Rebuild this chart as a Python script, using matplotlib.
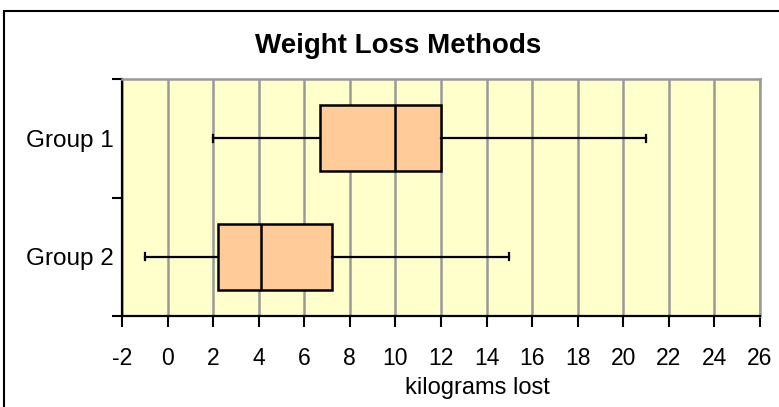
import matplotlib.pyplot as plt
from matplotlib.patches import Rectangle

plt.rcParams['font.family'] = ['Liberation Sans', 'DejaVu Sans']

groups = ['Group 1', 'Group 2']
whisker_low = [2, -1]
q1 = [6.7, 2.2]
median = [10, 4.1]
q3 = [12, 7.2]
whisker_high = [21, 15]
xticks = list(range(-2, 27, 2))

stats = []
for i, g in enumerate(groups):
    stats.append({'label': g, 'whislo': whisker_low[i], 'q1': q1[i],
                  'med': median[i], 'q3': q3[i], 'whishi': whisker_high[i],
                  'fliers': []})

fig = plt.figure(figsize=(7.79, 4.07), dpi=100)
ax = fig.add_axes([122/779, 91/407, 638/779, 237/407])
ax.set_facecolor('#FFFFCC')

positions = [1.5, 0.5]
ax.bxp(stats, positions=positions, vert=False, widths=0.56, patch_artist=True,
       showfliers=False,
       boxprops=dict(facecolor='#FFCC99', edgecolor='black', linewidth=1.8),
       medianprops=dict(color='black', linewidth=1.8),
       whiskerprops=dict(color='black', linewidth=1.6),
       capprops=dict(color='black', linewidth=1.6),
       capwidths=0.06, zorder=3)

ax.set_xlim(-2, 26)
ax.set_ylim(0, 2)
ax.set_xticks(xticks)
ax.set_xticklabels([str(t) for t in xticks], fontsize=16.5)
ax.set_yticks([0, 1, 2])
ax.set_yticklabels([])
ax.set_yticks(positions, minor=True)
ax.set_yticklabels(groups, minor=True, fontsize=17.5)
ax.tick_params(axis='y', which='minor', length=0, pad=6)
ax.tick_params(axis='y', which='major', length=7, width=1.5, direction='out')
ax.tick_params(axis='x', length=8, width=1.5, direction='out', pad=14)

ax.xaxis.grid(True, color='#999999', linewidth=1.8)
ax.set_axisbelow(True)
for s in ['top', 'right']:
    ax.spines[s].set_color('#999999')
    ax.spines[s].set_linewidth(1.8)
ax.spines['left'].set_linewidth(1.6)
ax.spines['bottom'].set_linewidth(1.6)

ax.set_xlabel('kilograms lost', fontsize=17)
ax.xaxis.set_label_coords((477 - 122) / 638, (407 - 388 - 91) / 237)
ax.xaxis.label.set_va('center')
fig.text(398/779, (407-46)/407, 'Weight Loss Methods', fontsize=20,
         fontweight='bold', ha='center', va='center')

fig.patches.append(Rectangle((4/779, -0.05), 1.1, (407-11)/407 + 0.05,
                             transform=fig.transFigure, fill=False,
                             edgecolor='black', linewidth=1.5))

fig.savefig('out.png', dpi=100)
